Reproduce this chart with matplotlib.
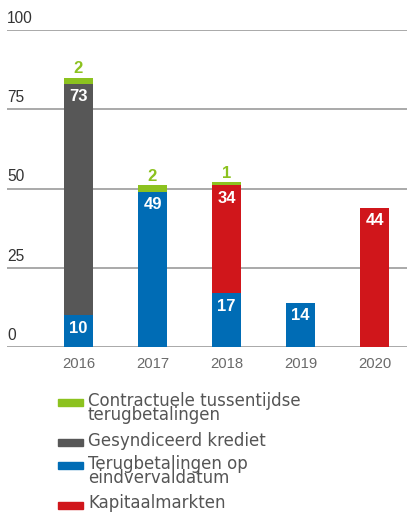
import matplotlib
matplotlib.use('Agg')
import matplotlib.pyplot as plt
from matplotlib.patches import Rectangle
from matplotlib.transforms import blended_transform_factory

plt.rcParams['font.family'] = ['Liberation Sans', 'DejaVu Sans']

years = ['2016', '2017', '2018', '2019', '2020']
eindverval = [10, 49, 17, 14, 0]
gesyndiceerd = [73, 0, 0, 0, 0]
kapitaal = [0, 0, 34, 0, 44]
contractueel = [2, 2, 1, 0, 0]
yticks = [0, 25, 50, 75, 100]

green = '#8cc21f'
grey = '#575757'
blue = '#006cb5'
red = '#d0161b'

W, H = 407, 514
fig = plt.figure(figsize=(W / 100, H / 100), dpi=100)
ax = fig.add_axes([7 / W, 1 - 347 / H, 1 - 7 / W, (347 - 30) / H])

x = list(range(len(years)))
width = 0.39
series = [(eindverval, blue), (gesyndiceerd, grey), (kapitaal, red)]
bottom = [0] * len(years)
for vals, col in series:
    ax.bar(x, vals, width, bottom=bottom, color=col, zorder=3)
    for i, v in enumerate(vals):
        if v > 0:
            ax.annotate(str(v), (i, bottom[i] + v), xytext=(0, -4),
                        textcoords='offset points', ha='center', va='top',
                        color='white', fontsize=12, fontweight='bold', zorder=4)
    bottom = [b + v for b, v in zip(bottom, vals)]

ax.bar(x, contractueel, width, bottom=bottom, color=green, zorder=3)
for i, v in enumerate(contractueel):
    if v > 0:
        ax.annotate(str(v), (i, bottom[i] + v), xytext=(0, 1),
                    textcoords='offset points', ha='center', va='bottom',
                    color=green, fontsize=12, fontweight='bold')

# gridlines + labels on the left
tr = blended_transform_factory(ax.transAxes, ax.transData)
for t in yticks:
    ax.axhline(t, color='#a3a3a3', lw=1.3, zorder=1)
    ax.annotate(str(t), (0, t), xycoords=tr, xytext=(0, 3),
                textcoords='offset points', ha='left', va='bottom',
                fontsize=11.2, color='#333333')

ax.set_xlim((7 - 78.5) / 74, (407 - 78.5) / 74)
ax.set_ylim(0, 100)
ax.set_xticks(x)
ax.set_xticklabels(years, fontsize=10.7, color='#6a6a6a')
ax.tick_params(axis='x', length=0, pad=7)
ax.set_yticks([])
for s in ax.spines.values():
    s.set_visible(False)

# legend, built by hand (baseline of first line, in pixels)
legend_items = [
    ('Contractuele tussentijdse\nterugbetalingen', green, 405.7),
    ('Gesyndiceerd krediet', grey, 445.5),
    ('Terugbetalingen op\neindvervaldatum', blue, 468.5),
    ('Kapitaalmarkten', red, 508.5),
]
line_step = 14.4
for label, col, yp in legend_items:
    fig.add_artist(Rectangle((58 / W, 1 - yp / H), 25 / W, 7 / H,
                             transform=fig.transFigure, color=col))
    n = label.count('\n')
    # multi-line text with va='baseline' sits on its last line
    fig.text(88 / W, 1 - (yp + n * line_step) / H, label, ha='left',
             va='baseline', fontsize=12, color='#555555',
             family='DejaVu Sans', linespacing=0.74)

fig.savefig('out.png', dpi=100)
